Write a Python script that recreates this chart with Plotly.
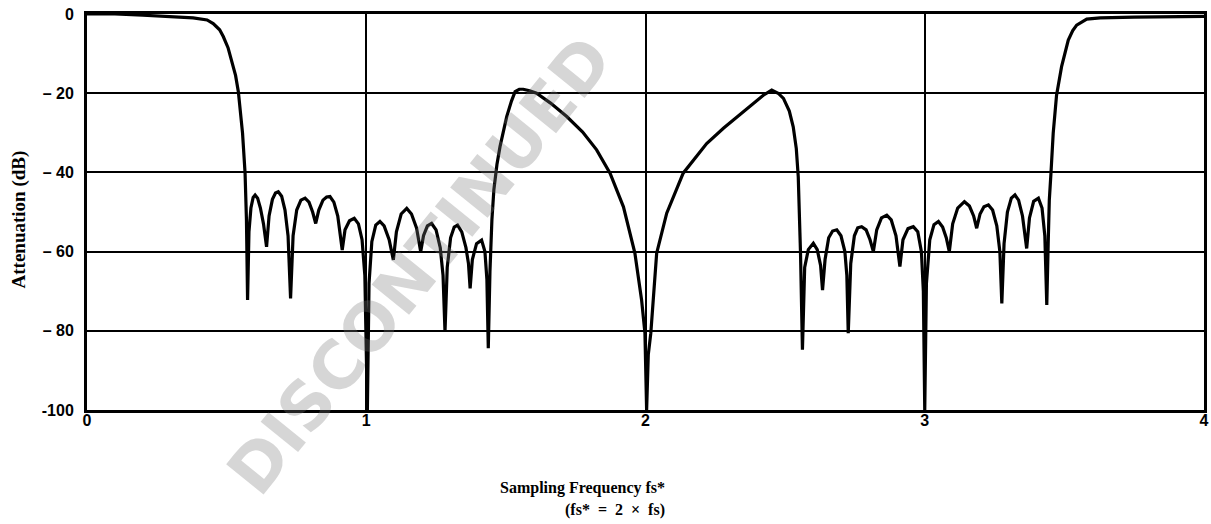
import plotly.graph_objects as go

# Filter response: frequency (x fs*) and attenuation (dB)
freq = [
    0.00, 0.10, 0.20, 0.30, 0.38, 0.43, 0.452, 0.475, 0.488, 0.505, 0.518, 0.532, 0.542, 0.550, 0.557, 0.566, 0.571, 0.575,
    0.580, 0.587, 0.595, 0.602, 0.611, 0.621, 0.632, 0.643,
    0.652, 0.664, 0.675, 0.685, 0.697, 0.709, 0.720, 0.729,
    0.738, 0.751, 0.766, 0.781, 0.795, 0.808, 0.819,
    0.830, 0.845, 0.858, 0.870, 0.884, 0.898, 0.914,
    0.924, 0.940, 0.957, 0.972, 0.985, 0.995, 1.004,
    1.010, 1.020, 1.034, 1.049, 1.064, 1.082, 1.097,
    1.108, 1.125, 1.145, 1.162, 1.180, 1.195,
    1.205, 1.219, 1.234, 1.250, 1.265, 1.275, 1.282,
    1.290, 1.302, 1.315, 1.327, 1.342, 1.357, 1.366, 1.372,
    1.380, 1.395, 1.413, 1.425, 1.432, 1.437,
    1.443, 1.450, 1.457, 1.468, 1.479, 1.503, 1.520, 1.533, 1.548, 1.562, 1.585, 1.610, 1.660, 1.718, 1.775,
    1.825, 1.873, 1.921, 1.962, 1.986, 1.998, 2.004,
    2.010, 2.019, 2.040, 2.076, 2.135, 2.219, 2.280, 2.338, 2.390, 2.422, 2.452, 2.475, 2.494, 2.515, 2.529, 2.540,
    2.547, 2.555, 2.562,
    2.570, 2.583, 2.601, 2.615, 2.627, 2.634,
    2.643, 2.656, 2.670, 2.685, 2.700, 2.714, 2.721, 2.726,
    2.735, 2.748, 2.760, 2.774, 2.790, 2.804, 2.816,
    2.828, 2.845, 2.864, 2.880, 2.897, 2.911,
    2.922, 2.940, 2.959, 2.975, 2.988, 2.995, 3.000,
    3.006, 3.018, 3.033, 3.049, 3.064, 3.077, 3.088,
    3.100, 3.118, 3.142, 3.160, 3.175, 3.186,
    3.198, 3.212, 3.228, 3.243, 3.258, 3.269, 3.276,
    3.284, 3.296, 3.310, 3.323, 3.336, 3.350, 3.365,
    3.375, 3.390, 3.407, 3.420, 3.430, 3.437,
    3.442, 3.446, 3.452, 3.460, 3.472, 3.490, 3.514, 3.530, 3.544, 3.580, 3.628, 3.750, 4.000,
]
atten_db = [
    0.0, 0.0, -0.3, -0.7, -1.0, -1.5, -2.4, -4.0, -5.7, -8.5, -11.6, -15.5, -19.6, -24.5, -30.1, -40.1, -52.0, -72.2,
    -55.0, -49.0, -46.3, -45.7, -46.5, -49.0, -53.0, -58.8,
    -51.0, -46.8, -45.2, -44.9, -46.0, -49.5, -56.0, -71.8,
    -56.0, -49.5, -47.0, -46.5, -47.5, -50.0, -52.9,
    -49.5, -47.0, -46.2, -46.1, -47.5, -51.0, -59.6,
    -54.5, -52.2, -51.6, -53.0, -57.0, -66.0, -100.0,
    -68.0, -57.5, -53.3, -52.4, -53.5, -57.0, -62.1,
    -55.0, -50.5, -49.1, -50.5, -54.0, -60.0,
    -56.0, -53.5, -52.9, -54.5, -59.0, -66.0, -80.2,
    -64.0, -56.5, -53.8, -53.3, -55.0, -59.0, -63.0, -69.3,
    -62.0, -58.0, -57.1, -60.0, -67.0, -84.4,
    -65.0, -52.0, -44.4, -38.0, -33.5, -25.9, -22.0, -19.6, -19.0, -19.0, -19.4, -20.0, -22.5, -25.9, -29.8,
    -34.3, -40.2, -48.7, -60.4, -72.2, -80.6, -100.0,
    -86.0, -80.6, -60.4, -50.3, -40.2, -32.7, -28.8, -25.5, -22.3, -20.5, -19.2, -20.0, -21.3, -24.5, -28.5, -34.0,
    -41.1, -60.0, -84.8,
    -64.0, -59.5, -57.9, -59.5, -63.5, -69.7,
    -62.0, -56.5, -54.8, -54.5, -56.0, -60.0, -66.0, -80.6,
    -63.0, -56.0, -54.0, -53.7, -54.5, -57.0, -60.0,
    -54.5, -51.5, -50.8, -52.0, -56.0, -63.8,
    -57.0, -54.2, -53.7, -55.0, -60.0, -70.0, -100.0,
    -68.0, -57.0, -53.2, -52.4, -53.8, -56.5, -60.0,
    -53.0, -49.0, -47.4, -48.5, -51.0, -54.1,
    -50.5, -48.7, -48.2, -49.5, -53.5, -60.0, -73.1,
    -58.0, -50.0, -46.5, -45.7, -47.0, -51.0, -59.2,
    -51.5, -47.3, -46.5, -49.0, -56.0, -73.5,
    -58.0, -47.0, -40.2, -30.1, -20.5, -13.3, -6.6, -4.2, -2.8, -1.3, -1.0, -0.8, -0.6,
]

x_tickvals = [0, 1, 2, 3, 4]
x_ticktext = ["0", "1", "2", "3", "4"]
y_tickvals = [0, -20, -40, -60, -80, -100]
y_ticktext = ["0", "– 20", "– 40", "– 60", "– 80", "-100"]

x_title_line1 = "Sampling Frequency fs*"
x_title_line2 = "(fs*\u00a0\u00a0=\u00a0\u00a02\u00a0\u00a0×\u00a0\u00a0fs)"
y_title = "Attenuation (dB)"
watermark = "DISCONTINUED"

fig = go.Figure()
fig.add_trace(go.Scatter(
    x=freq, y=atten_db, mode="lines",
    line=dict(color="black", width=3.2),
    showlegend=False, hoverinfo="skip",
))

tick_font = dict(family="Liberation Sans, Arial, sans-serif", size=16, color="black", weight="bold")
title_font = dict(family="Liberation Serif, Times New Roman, serif", size=16, color="black", weight="bold")
ytitle_font = dict(family="Liberation Serif, Times New Roman, serif", size=19, color="black", weight="bold")

fig.update_layout(
    width=1211, height=524,
    margin=dict(l=87, r=7, t=14, b=114),
    paper_bgcolor="white", plot_bgcolor="white",
    xaxis=dict(
        range=[0, 4], tickvals=x_tickvals, ticktext=x_ticktext,
        showgrid=True, gridcolor="black", gridwidth=1.5,
        showline=True, linecolor="black", linewidth=3, mirror=True,
        zeroline=False, ticks="", tickfont=tick_font, ticklabelstandoff=-6,
        ticklabeloverflow="allow", automargin=False,
    ),
    yaxis=dict(
        range=[-100, 0], tickvals=y_tickvals, ticktext=y_ticktext,
        showgrid=True, gridcolor="black", gridwidth=1.5,
        showline=True, linecolor="black", linewidth=3, mirror=True,
        zeroline=False, ticks="", tickfont=tick_font, ticklabelstandoff=7,
        ticklabeloverflow="allow", automargin=False,
    ),
    annotations=[
        dict(text=y_title, xref="paper", yref="paper", x=-0.0613, y=0.48,
             xanchor="center", yanchor="middle", showarrow=False, textangle=-90,
             font=ytitle_font),
        dict(text=x_title_line1, xref="paper", yref="paper", x=0.519, y=-0.197,
             xanchor="right", yanchor="middle", showarrow=False, font=title_font),
        dict(text=x_title_line2, xref="paper", yref="paper", x=0.519, y=-0.2525,
             xanchor="right", yanchor="middle", showarrow=False, font=title_font),
        dict(text=watermark, xref="paper", yref="paper", x=0.298, y=0.366,
             xanchor="center", yanchor="middle", showarrow=False, textangle=-51,
             font=dict(family="DejaVu Sans, sans-serif", size=66,
                       color="rgba(120,120,120,0.3)", weight="bold")),
    ],
)

# remove the default 8px page margin so the figure sits at the window's corner
fig.write_html("out.html", config={"displayModeBar": False},
               post_script="document.body.style.margin='0px';")
